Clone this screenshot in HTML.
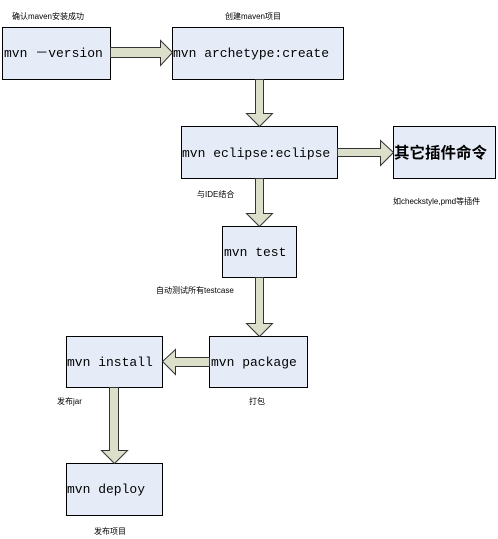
<!DOCTYPE html>
<html><head><meta charset="utf-8"><style>
html,body{margin:0;padding:0;background:#fff;}
svg{display:block}
.b{fill:#e6ecf7;stroke:#000;stroke-width:1}
.a{fill:#dcdfc9;stroke:#333;stroke-width:1}
.t{font-family:"Liberation Mono",monospace;font-size:13px;fill:#000}
.s{font-family:"Liberation Sans","Noto Sans CJK SC",sans-serif;font-size:8px;fill:#000}
</style></head><body>
<svg width="498" height="539" xmlns="http://www.w3.org/2000/svg">
<rect class="b" x="2.5" y="27.5" width="108" height="52"/>
<rect class="b" x="172.5" y="27.5" width="171" height="52"/>
<rect class="b" x="181.5" y="126.5" width="156" height="52"/>
<rect class="b" x="393.5" y="126.5" width="102" height="52"/>
<rect class="b" x="222.5" y="226.5" width="74" height="51"/>
<rect class="b" x="209.5" y="336.5" width="98" height="51"/>
<rect class="b" x="66.5" y="336.5" width="96" height="51"/>
<rect class="b" x="66.5" y="463.5" width="96" height="52"/>
<polygon class="a" points="110.5,47.5 160.5,47.5 160.5,40.5 172.5,52.5 160.5,65.5 160.5,57.5 110.5,57.5"/>
<polygon class="a" points="255.5,79.5 263.5,79.5 263.5,113.5 272.5,113.5 259.5,126.5 246.5,113.5 255.5,113.5"/>
<polygon class="a" points="255.5,178.5 263.5,178.5 263.5,213.5 272.5,213.5 259.5,226.5 246.5,213.5 255.5,213.5"/>
<polygon class="a" points="337.5,148.5 380.5,148.5 380.5,140.5 393.5,152.5 380.5,165.5 380.5,156.5 337.5,156.5"/>
<polygon class="a" points="255.5,277.5 263.5,277.5 263.5,323.5 272.5,323.5 259.5,336.5 246.5,323.5 255.5,323.5"/>
<polygon class="a" points="209.5,357.5 175.5,357.5 175.5,349.5 162.5,361.5 175.5,374.5 175.5,366.5 209.5,366.5"/>
<polygon class="a" points="109.5,387.5 118.5,387.5 118.5,450.5 127.5,450.5 114.5,463.5 101.5,450.5 109.5,450.5"/>
<text class="t" x="4" y="57">mvn －version</text>
<text class="t" x="173" y="57">mvn archetype:create</text>
<text class="t" x="182" y="157">mvn eclipse:eclipse</text>
<text x="394" y="158" style="font-family:'Noto Sans CJK SC',sans-serif;font-size:15.5px;font-weight:bold">其它插件命令</text>
<text class="t" x="224" y="256">mvn test</text>
<text class="t" x="211" y="366">mvn package</text>
<text class="t" x="67" y="366">mvn install</text>
<text class="t" x="67" y="493">mvn deploy</text>
<text class="s" x="12" y="19">确认maven安装成功</text>
<text class="s" x="225" y="19">创建maven项目</text>
<text class="s" x="197" y="197">与IDE结合</text>
<text class="s" x="393" y="204">如checkstyle,pmd等插件</text>
<text class="s" x="156" y="293">自动测试所有testcase</text>
<text class="s" x="249" y="404">打包</text>
<text class="s" x="57" y="404">发布jar</text>
<text class="s" x="94" y="534">发布项目</text>
</svg>
</body></html>
